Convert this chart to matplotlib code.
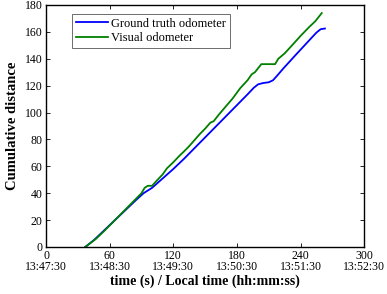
import matplotlib.pyplot as plt

# values
gt_time = [37, 45, 55, 65, 75, 85, 92, 100, 110, 120, 130, 140, 150, 160, 170,
           180, 190, 196, 200, 205, 210, 214, 218, 224, 235, 245, 255, 259, 263]
gt_dist = [0, 5, 12.5, 20, 27.5, 35, 40, 44, 51, 58, 65.5, 73.5, 81.5, 89.5, 97.5,
           105.5, 113.5, 118.5, 121, 122, 122.5, 124, 127.5, 133, 142.5, 151, 159.5, 162, 162.5]

vo_time = [37, 42, 47, 55, 65, 75, 85, 90, 93, 96, 100, 104, 110, 114, 120, 126,
           130, 135, 140, 145, 150, 155, 158, 163, 170, 176, 183, 190, 194, 197,
           200, 203, 210, 216, 219, 225, 232, 240, 248, 254, 258, 260]
vo_dist = [0, 3, 6, 12, 20, 28, 36, 40, 44, 45.5, 45.5, 49, 54, 58.5, 63, 68,
           71, 75, 79.5, 84, 88, 92.5, 93.5, 98.5, 105, 110.5, 118, 124, 128.5, 130,
           133, 136, 136, 136, 140, 144, 150, 157, 163.5, 168, 172, 174]

x_ticks = [0, 60, 120, 180, 240, 300]
clock_labels = ["13:47:30", "13:48:30", "13:49:30", "13:50:30", "13:51:30", "13:52:30"]
y_ticks = [0, 20, 40, 60, 80, 100, 120, 140, 160, 180]

plt.rcParams["font.family"] = "Liberation Serif"

fig = plt.figure(figsize=(3.87, 2.94), dpi=100)
ax = fig.add_axes([0.119, 0.160, 0.822, 0.823])

ax.plot(gt_time, gt_dist, color="#0000ff", lw=1.3, label="Ground truth odometer")
ax.plot(vo_time, vo_dist, color="#008000", lw=1.3, label="Visual odometer")

ax.set_xlim(0, 300)
ax.set_ylim(0, 180)
ax.set_xticks(x_ticks)
ax.set_xticklabels([f"{t}\n{c}" for t, c in zip(x_ticks, clock_labels)],
                   linespacing=0.95)
ax.set_yticks(y_ticks)
ax.tick_params(direction="in", top=True, right=True, length=3, width=0.6,
               labelsize=8.5, pad=2.5)
ax.tick_params(axis="x", pad=2)
for s in ax.spines.values():
    s.set_linewidth(1.0)

ax.set_xlabel("time (s) / Local time (hh:mm:ss)", fontsize=10,
              fontweight="bold", labelpad=1)
ax.set_ylabel("Cumulative distance", fontsize=10.5, fontweight="bold", labelpad=4)

leg = ax.legend(loc="upper left", bbox_to_anchor=(0.082, 0.963), fontsize=9,
                fancybox=False, framealpha=1, edgecolor="#555555",
                handlelength=2.6, handletextpad=0.2, borderpad=0.3,
                labelspacing=0.2, borderaxespad=0)
leg.get_frame().set_linewidth(0.6)

fig.savefig("out.png", dpi=100)
